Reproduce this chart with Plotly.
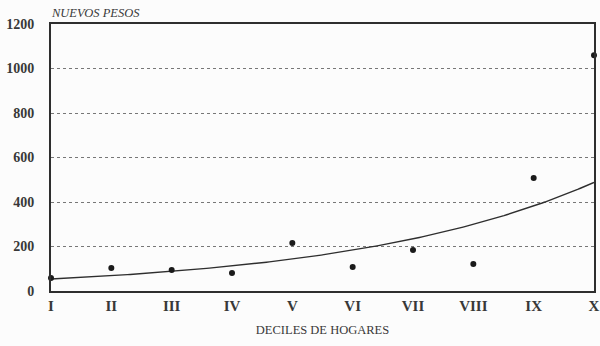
import numpy as np
import plotly.graph_objects as go

deciles = ["I", "II", "III", "IV", "V", "VI", "VII", "VIII", "IX", "X"]
decile_pos = list(range(1, 11))
ingreso = [58, 103, 94, 81, 216, 108, 184, 121, 508, 1060]
y_ticks = [0, 200, 400, 600, 800, 1000, 1200]

# exponential trend fitted to the data (least squares on log values)
xp = np.array(decile_pos, dtype=float)
b, ln_a = np.polyfit(xp, np.log(ingreso), 1)
xs = np.linspace(1, 10, 200)
trend = np.exp(ln_a + b * xs)

ink = "#2e2e2e"
txt = "#383838"
serif = "Liberation Serif, Times New Roman, serif"

fig = go.Figure()
fig.add_trace(go.Scatter(x=xs, y=trend, mode="lines",
                         line=dict(color=ink, width=1.4), hoverinfo="skip"))
fig.add_trace(go.Scatter(x=decile_pos, y=ingreso, mode="markers",
                         marker=dict(color="#1a1a1a", size=6, symbol="circle"),
                         cliponaxis=False))

fig.update_layout(
    width=600, height=346,
    margin=dict(l=51, r=6, t=24, b=55),
    paper_bgcolor="#fcfcfc", plot_bgcolor="#fcfcfc",
    showlegend=False,
    font=dict(family=serif, color=txt),
    xaxis=dict(range=[1, 10], tickvals=decile_pos, ticktext=deciles,
               automargin=False,
               showgrid=False, zeroline=False, showline=True, mirror=True,
               linecolor=ink, linewidth=2, ticks="",
               tickfont=dict(size=15, family=serif, color=txt, weight="bold"),
               title=dict(text="DECILES DE HOGARES", font=dict(size=12.5, family=serif, color=txt),
                          standoff=12)),
    yaxis=dict(range=[0, 1200], tickvals=y_ticks, showgrid=True,
               automargin=False,
               gridcolor="#777", griddash="dot", gridwidth=1,
               zeroline=False, showline=True, mirror=True,
               linecolor=ink, linewidth=2, ticks="",
               tickfont=dict(size=14, family=serif, color=txt, weight="bold"), ticklabelstandoff=12),
    annotations=[dict(text="<i>NUEVOS PESOS</i>", xref="paper", yref="paper",
                      x=0, y=1, xanchor="left", yanchor="bottom", yshift=2, xshift=-2,
                      showarrow=False, font=dict(size=12.5, family=serif, color=txt))],
)

fig.write_html("out.html", config={"displayModeBar": False},
               post_script="document.body.style.margin='0';")
